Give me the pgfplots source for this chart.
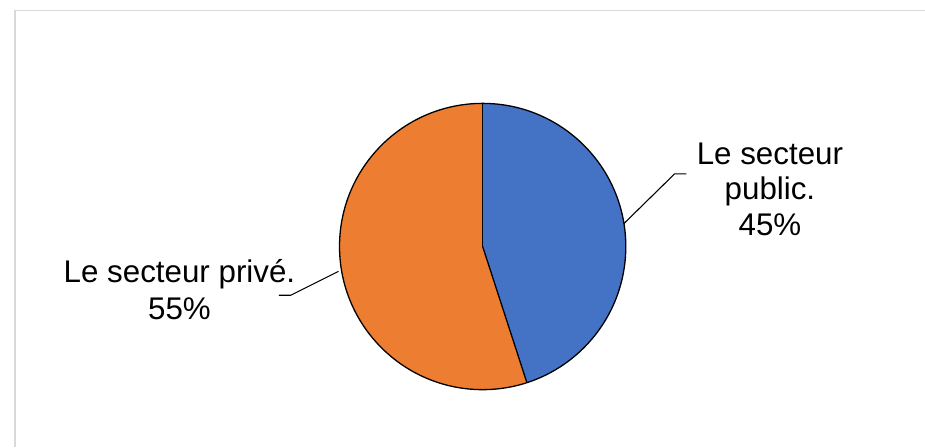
\documentclass[border=0pt]{standalone}
\usepackage{pgfplots}
\usepackage{pgfplotstable}
\pgfplotsset{compat=1.18}
\usepackage{fontspec}
\setmainfont{Liberation Sans}
\definecolor{pieblue}{HTML}{4472C4}
\definecolor{pieorange}{HTML}{ED7D31}
\definecolor{frame}{HTML}{D9D9D9}

\pgfplotstableread{
label value
public 45
prive 55
}\piedata

\begin{document}
\pgfplotstablegetelem{0}{value}\of\piedata \let\va\pgfplotsretval
\pgfplotstablegetelem{1}{value}\of\piedata \let\vb\pgfplotsretval
\pgfmathsetmacro\aA{90-3.6*\va}
\pgfmathsetmacro\aB{\aA-3.6*\vb}
\begin{tikzpicture}
\begin{axis}[
  at={(0,0)}, anchor=south west,
  x=1pt, y=1pt,
  xmin=-480, xmax=445, ymin=-202, ymax=248,
  hide axis, clip=false,
  scale only axis,
]
\coordinate (SW) at (axis cs:-480,-202);
\coordinate (NE) at (axis cs:445,248);
% frame
\addplot[frame, line width=1.5pt] coordinates {(-470.5,-202) (-470.5,237.5) (445,237.5)};
% slices
\fill[pieblue] (axis cs:0,0) -- ++(90:144pt) arc[start angle=90, end angle=\aA, radius=144pt] -- cycle;
\fill[pieorange] (axis cs:0,0) -- ++(\aA:144pt) arc[start angle=\aA, end angle=\aB, radius=144pt] -- cycle;
\draw[black, line width=1.3pt] (axis cs:0,0) -- ++(90:144pt);
\draw[black, line width=1.3pt] (axis cs:0,0) -- ++(\aA:144pt);
\draw[black, line width=1.3pt] (axis cs:0,0) ++(90:144pt) arc[start angle=90, end angle=-270, radius=144pt];
% leader lines
\addplot[black, line width=1.1pt] coordinates {(142,23) (193,73) (205,73)};
\addplot[black, line width=1.1pt] coordinates {(-145,-25) (-193,-49) (-205,-49)};
% labels
\node[anchor=base, font=\fontsize{31.5}{37}\selectfont, inner sep=0pt] at (axis cs:289,83) {Le secteur};
\node[anchor=base, font=\fontsize{31.5}{37}\selectfont, inner sep=0pt] at (axis cs:289,47) {public.};
\node[anchor=base, font=\fontsize{31.5}{37}\selectfont, inner sep=0pt] at (axis cs:289,11) {45\%};
\node[anchor=base, font=\fontsize{31.5}{37}\selectfont, inner sep=0pt] at (axis cs:-305,-36) {Le secteur privé.};
\node[anchor=base, font=\fontsize{31.5}{37}\selectfont, inner sep=0pt] at (axis cs:-305,-73) {55\%};
\end{axis}
\pgfresetboundingbox
\path[use as bounding box] (SW) rectangle (NE);
\end{tikzpicture}
\end{document}
